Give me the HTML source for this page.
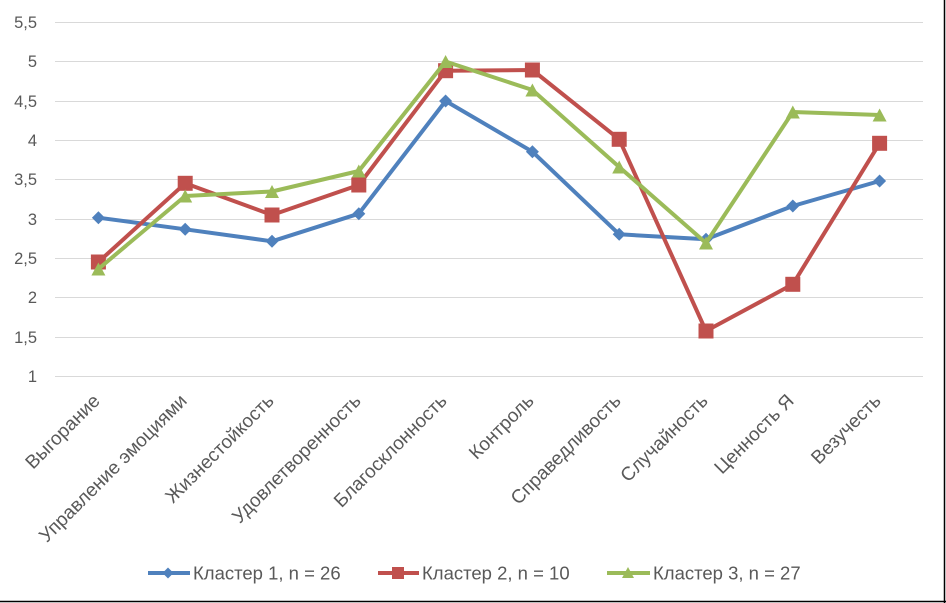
<!DOCTYPE html>
<html><head><meta charset="utf-8"><style>
html,body{margin:0;padding:0;background:#fff;}
svg{display:block;}
text{font-family:"Liberation Sans",Arial,sans-serif;}
</style></head><body>
<svg width="946" height="603" viewBox="0 0 946 603" xmlns="http://www.w3.org/2000/svg">
<rect width="946" height="603" fill="#fff"/>
<line x1="944.5" y1="0" x2="944.5" y2="603" stroke="#000" stroke-width="1.5"/>
<line x1="0" y1="601.5" x2="946" y2="601.5" stroke="#000" stroke-width="1.5"/>
<g stroke="#d9d9d9" stroke-width="1">
<line x1="55" y1="22.5" x2="923" y2="22.5"/>
<line x1="55" y1="61.5" x2="923" y2="61.5"/>
<line x1="55" y1="101.5" x2="923" y2="101.5"/>
<line x1="55" y1="140.5" x2="923" y2="140.5"/>
<line x1="55" y1="179.5" x2="923" y2="179.5"/>
<line x1="55" y1="219.5" x2="923" y2="219.5"/>
<line x1="55" y1="258.5" x2="923" y2="258.5"/>
<line x1="55" y1="297.5" x2="923" y2="297.5"/>
<line x1="55" y1="337.5" x2="923" y2="337.5"/>
<line x1="55" y1="376.5" x2="923" y2="376.5"/>
</g>
<g font-size="16.5" fill="#595959" text-anchor="end">
<text x="37" y="28">5,5</text>
<text x="37" y="67">5</text>
<text x="37" y="107">4,5</text>
<text x="37" y="146">4</text>
<text x="37" y="185">3,5</text>
<text x="37" y="225">3</text>
<text x="37" y="264">2,5</text>
<text x="37" y="303">2</text>
<text x="37" y="343">1,5</text>
<text x="37" y="382">1</text>
</g>
<g font-size="19" fill="#595959" text-anchor="end">
<text transform="translate(101,402) rotate(-45)">Выгорание</text>
<text transform="translate(188,402) rotate(-45)">Управление эмоциями</text>
<text transform="translate(275,402) rotate(-45)">Жизнестойкость</text>
<text transform="translate(362,402) rotate(-45)">Удовлетворенность</text>
<text transform="translate(448,402) rotate(-45)">Благосклонность</text>
<text transform="translate(535,402) rotate(-45)">Контроль</text>
<text transform="translate(622,402) rotate(-45)">Справедливость</text>
<text transform="translate(709,402) rotate(-45)">Случайность</text>
<text transform="translate(795,402) rotate(-45)">Ценность Я</text>
<text transform="translate(882,402) rotate(-45)">Везучесть</text>
</g>
<!-- Series 1 blue -->
<polyline fill="none" stroke="#4F81BD" stroke-width="4" stroke-linejoin="round" points="98.4,217.7 185.2,229.3 272,241.3 358.8,213.7 445.6,101 532.4,151.7 619.2,234.3 706,239.3 792.8,206 879.6,181"/>
<g fill="#4F81BD">
<polygon points="98.4,211.2 104.9,217.7 98.4,224.2 91.9,217.7"/>
<polygon points="185.2,222.8 191.7,229.3 185.2,235.8 178.7,229.3"/>
<polygon points="272,234.8 278.5,241.3 272,247.8 265.5,241.3"/>
<polygon points="358.8,207.2 365.3,213.7 358.8,220.2 352.3,213.7"/>
<polygon points="445.6,94.5 452.1,101 445.6,107.5 439.1,101"/>
<polygon points="532.4,145.2 538.9,151.7 532.4,158.2 525.9,151.7"/>
<polygon points="619.2,227.8 625.7,234.3 619.2,240.8 612.7,234.3"/>
<polygon points="706,232.8 712.5,239.3 706,245.8 699.5,239.3"/>
<polygon points="792.8,199.5 799.3,206 792.8,212.5 786.3,206"/>
<polygon points="879.6,174.5 886.1,181 879.6,187.5 873.1,181"/>
</g>
<!-- Series 2 red -->
<polyline fill="none" stroke="#C0504D" stroke-width="4" stroke-linejoin="round" points="98.4,262 185.2,183.3 272,215 358.8,185 445.6,70.7 532.4,70 619.2,139.3 706,331 792.8,284.3 879.6,143.3"/>
<g fill="#C0504D">
<rect x="90.9" y="254.5" width="15" height="15"/>
<rect x="177.7" y="175.8" width="15" height="15"/>
<rect x="264.5" y="207.5" width="15" height="15"/>
<rect x="351.3" y="177.5" width="15" height="15"/>
<rect x="438.1" y="63.2" width="15" height="15"/>
<rect x="524.9" y="62.5" width="15" height="15"/>
<rect x="611.7" y="131.8" width="15" height="15"/>
<rect x="698.5" y="323.5" width="15" height="15"/>
<rect x="785.3" y="276.8" width="15" height="15"/>
<rect x="872.1" y="135.8" width="15" height="15"/>
</g>
<!-- Series 3 green -->
<polyline fill="none" stroke="#9BBB59" stroke-width="4" stroke-linejoin="round" points="98.4,269 185.2,196 272,191.5 358.8,171 445.6,61.5 532.4,90 619.2,167 706,243 792.8,112 879.6,115"/>
<g fill="#9BBB59">
<polygon points="98.4,262.5 105.4,275.5 91.4,275.5"/>
<polygon points="185.2,189.5 192.2,202.5 178.2,202.5"/>
<polygon points="272,185 279,198 265,198"/>
<polygon points="358.8,164.5 365.8,177.5 351.8,177.5"/>
<polygon points="445.6,55 452.6,68 438.6,68"/>
<polygon points="532.4,83.5 539.4,96.5 525.4,96.5"/>
<polygon points="619.2,160.5 626.2,173.5 612.2,173.5"/>
<polygon points="706,236.5 713,249.5 699,249.5"/>
<polygon points="792.8,105.5 799.8,118.5 785.8,118.5"/>
<polygon points="879.6,108.5 886.6,121.5 872.6,121.5"/>
</g>
<!-- Legend -->
<line x1="148" y1="573" x2="190" y2="573" stroke="#4F81BD" stroke-width="4"/>
<polygon points="168,567.5 173.5,573 168,578.5 162.5,573" fill="#4F81BD"/>
<text x="193" y="579.5" font-size="18.5" fill="#595959">Кластер 1, n = 26</text>
<line x1="378" y1="573" x2="419" y2="573" stroke="#C0504D" stroke-width="4"/>
<rect x="392" y="567" width="12" height="12" fill="#C0504D"/>
<text x="422" y="579.5" font-size="18.5" fill="#595959">Кластер 2, n = 10</text>
<line x1="607" y1="573" x2="650" y2="573" stroke="#9BBB59" stroke-width="4"/>
<polygon points="628,567 634,578 622,578" fill="#9BBB59"/>
<text x="653" y="579.5" font-size="18.5" fill="#595959">Кластер 3, n = 27</text>
</svg>
</body></html>
